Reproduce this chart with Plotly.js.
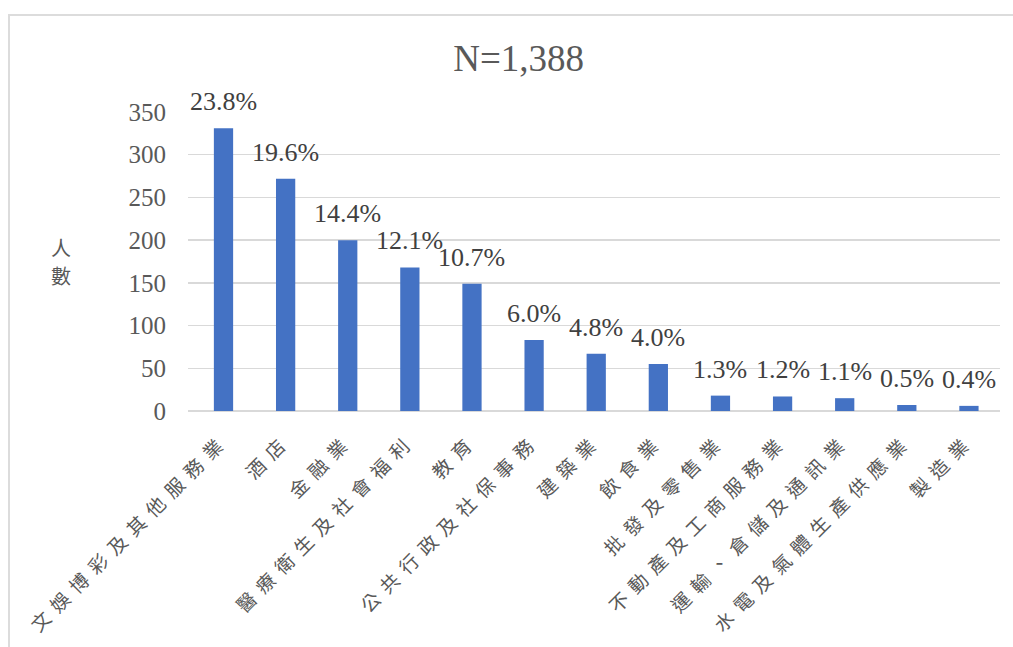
<!DOCTYPE html>
<html>
<head>
<meta charset="utf-8">
<script src="https://cdn.plot.ly/plotly-3.0.1.min.js"></script>
<style>
  html, body { margin: 0; padding: 0; background: #fff; }
  #frame { position: absolute; left: 8px; top: 14px; width: 1100px; height: 700px; border: 2px solid #dcdcdc; box-sizing: border-box; }
  #chart { position: absolute; left: 0; top: 0; width: 1013px; height: 647px; }
  #chart .xaxislayer-above .xtick text { letter-spacing: 8px; }
</style>
</head>
<body>
<div id="frame"></div>
<div id="chart"></div>
<script>
const categories = ["文娛博彩及其他服務業", "酒店", "金融業", "醫療衛生及社會福利", "教育", "公共行政及社保事務", "建築業", "飲食業", "批發及零售業", "不動產及工商服務業", "運輸、倉儲及通訊業", "水電及氣體生產供應業", "製造業"];
const counts = [331, 272, 200, 168, 149, 83, 67, 55, 18, 17, 15, 7, 6];
const percentLabels = ["23.8%", "19.6%", "14.4%", "12.1%", "10.7%", "6.0%", "4.8%", "4.0%", "1.3%", "1.2%", "1.1%", "0.5%", "0.4%"];
const yTicks = [0, 50, 100, 150, 200, 250, 300, 350];
const yTitleChars = ["人", "數"];

const serif = "Liberation Serif, Times New Roman, serif";
const cjk = "Noto Sans CJK TC, Noto Sans CJK SC, sans-serif";

const trace = {
  type: "bar",
  x: categories,
  y: counts,
  marker: { color: "#4472C4" },
  hoverinfo: "x+y"
};

const annotations = categories.map((c, i) => ({
  x: c, y: counts[i], xref: "x", yref: "y",
  text: percentLabels[i], showarrow: false,
  yanchor: "bottom", yshift: 10,
  font: { family: serif, size: 26, color: "#404040" }
}));
yTitleChars.forEach((ch, i) => {
  annotations.push({
    xref: "paper", yref: "paper", x: -0.157, y: 0.548 - i * 0.094,
    text: ch, showarrow: false, xanchor: "center", yanchor: "middle",
    font: { family: cjk, size: 20, color: "#595959" }
  });
});

const layout = {
  width: 1013, height: 647,
  paper_bgcolor: "rgba(0,0,0,0)", plot_bgcolor: "rgba(0,0,0,0)",
  margin: { l: 188, r: 13, t: 112, b: 236 },
  bargap: 0.69,
  showlegend: false,
  title: {
    text: "N=1,388", x: 0.512, xref: "container", xanchor: "center",
    y: 0.91, yref: "container", yanchor: "middle",
    font: { family: serif, size: 37, color: "#595959" }
  },
  xaxis: {
    type: "category",
    tickangle: -45,
    tickfont: { family: cjk, size: 19, color: "#595959" },
    ticklabelstandoff: 14,
    showgrid: false, showline: false, zeroline: false, ticks: ""
  },
  yaxis: {
    range: [0, 350],
    tickvals: yTicks,
    tickfont: { family: serif, size: 25, color: "#595959" },
    ticklabelstandoff: 21,
    showgrid: true, gridcolor: "#d9d9d9", gridwidth: 1.5,
    zeroline: true, zerolinecolor: "#d9d9d9", zerolinewidth: 1.5,
    showline: false, ticks: ""
  },
  annotations: annotations
};

Plotly.newPlot("chart", [trace], layout, { displayModeBar: false, staticPlot: true });
</script>
</body>
</html>
